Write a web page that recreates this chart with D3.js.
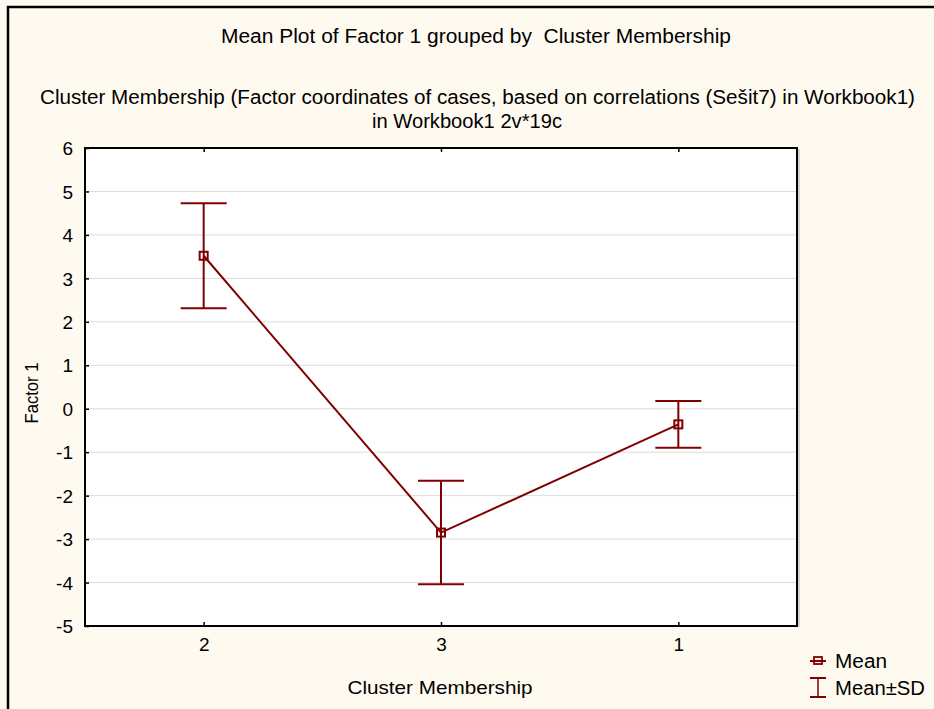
<!DOCTYPE html>
<html>
<head>
<meta charset="utf-8">
<script src="https://cdn.jsdelivr.net/npm/d3@7"></script>
<style>
  html, body { margin: 0; padding: 0; background: #fffaf0; }
  svg { display: block; }
  text { white-space: pre; }
</style>
</head>
<body>
<svg id="chart" width="934" height="709"></svg>
<script>
// Cluster order as displayed on the x axis
const clusters = ["2", "3", "1"];
// Mean of Factor 1 per cluster
const means = [3.52, -2.85, -0.36];
// Standard deviation per cluster
const sds = [1.21, 1.19, 0.54];
// Y axis tick values
const yTicks = [-5, -4, -3, -2, -1, 0, 1, 2, 3, 4, 5, 6];

const titleText = "Mean Plot of Factor 1 grouped by  Cluster Membership";
const subtitleLines = [
  "Cluster Membership (Factor coordinates of cases, based on correlations (Sešit7) in Workbook1)",
  "in Workbook1 2v*19c"
];
const xTitle = "Cluster Membership";
const yTitle = "Factor 1";
const legendLabels = ["Mean", "Mean±SD"];

const data = clusters.map((c, i) => ({ cluster: c, mean: means[i], sd: sds[i] }));

const svg = d3.select("#chart");
const W = 934, H = 709;
const plot = { left: 85, top: 148, right: 797, bottom: 626 };
const red = "#800000";
const sans = "'Liberation Sans', Arial, sans-serif";

// Outer frame (left and top edges visible)
svg.append("rect").attr("width", W).attr("height", H).attr("fill", "#fffaf0");
svg.append("line").attr("x1", 8).attr("x2", 8).attr("y1", 6).attr("y2", H)
  .attr("stroke", "#000").attr("stroke-width", 2.5);
svg.append("line").attr("x1", 7).attr("x2", W).attr("y1", 7).attr("y2", 7)
  .attr("stroke", "#000").attr("stroke-width", 2.5);

const x = d3.scalePoint().domain(clusters)
  .range([plot.left, plot.right]).padding(0.5);
const y = d3.scaleLinear().domain([-5, 6]).range([plot.bottom, plot.top]);

// Plot background
svg.append("rect")
  .attr("x", plot.left).attr("y", plot.top)
  .attr("width", plot.right - plot.left).attr("height", plot.bottom - plot.top)
  .attr("fill", "#ffffff");

// Horizontal gridlines
svg.append("g").selectAll("line")
  .data(yTicks.filter(t => t > -5 && t < 6))
  .join("line")
  .attr("x1", plot.left).attr("x2", plot.right)
  .attr("y1", d => y(d)).attr("y2", d => y(d))
  .attr("stroke", "#dcdcdc").attr("stroke-width", 1);

// Y axis (ticks drawn inward)
const yAxis = d3.axisLeft(y).tickValues(yTicks).tickSize(-4).tickPadding(12)
  .tickFormat(d => String(d));
const gy = svg.append("g").attr("transform", `translate(${plot.left},0)`).call(yAxis);
gy.select(".domain").remove();
gy.selectAll(".tick line").attr("stroke", "#000").attr("stroke-width", 1.5);
gy.selectAll(".tick text").attr("font-family", sans).attr("font-size", 19)
  .attr("fill", "#000").attr("dy", "0.35em");

// X axis bottom
const xAxis = d3.axisBottom(x).tickSize(-4).tickPadding(12);
const gx = svg.append("g").attr("transform", `translate(0,${plot.bottom})`).call(xAxis);
gx.select(".domain").remove();
gx.selectAll(".tick line").attr("stroke", "#000").attr("stroke-width", 1.5);
gx.selectAll(".tick text").attr("font-family", sans).attr("font-size", 19).attr("fill", "#000");

// X axis top ticks
const gxt = svg.append("g").attr("transform", `translate(0,${plot.top})`)
  .call(d3.axisTop(x).tickSize(-4).tickFormat(""));
gxt.select(".domain").remove();
gxt.selectAll(".tick line").attr("stroke", "#000").attr("stroke-width", 1.5);

// Plot frame with a faint shadow
svg.append("line").attr("x1", plot.right + 2).attr("x2", plot.right + 2)
  .attr("y1", plot.top + 1).attr("y2", plot.bottom + 1)
  .attr("stroke", "#b0b0b0").attr("stroke-width", 1);
svg.append("rect")
  .attr("x", plot.left).attr("y", plot.top)
  .attr("width", plot.right - plot.left).attr("height", plot.bottom - plot.top)
  .attr("fill", "none").attr("stroke", "#000").attr("stroke-width", 2);

// Error bars: mean ± SD
const capHalf = 23;
const eb = svg.append("g").attr("stroke", red).attr("stroke-width", 2).attr("fill", "none");
eb.selectAll(".stem").data(data).join("line").attr("class", "stem")
  .attr("x1", d => x(d.cluster)).attr("x2", d => x(d.cluster))
  .attr("y1", d => y(d.mean + d.sd)).attr("y2", d => y(d.mean - d.sd));
eb.selectAll(".capTop").data(data).join("line").attr("class", "capTop")
  .attr("x1", d => x(d.cluster) - capHalf).attr("x2", d => x(d.cluster) + capHalf)
  .attr("y1", d => y(d.mean + d.sd)).attr("y2", d => y(d.mean + d.sd));
eb.selectAll(".capBot").data(data).join("line").attr("class", "capBot")
  .attr("x1", d => x(d.cluster) - capHalf).attr("x2", d => x(d.cluster) + capHalf)
  .attr("y1", d => y(d.mean - d.sd)).attr("y2", d => y(d.mean - d.sd));

// Mean line
svg.append("path").datum(data)
  .attr("d", d3.line().x(d => x(d.cluster)).y(d => y(d.mean)))
  .attr("fill", "none").attr("stroke", red).attr("stroke-width", 2);

// Mean markers
const ms = 8;
svg.append("g").selectAll("rect").data(data).join("rect")
  .attr("x", d => x(d.cluster) - ms / 2).attr("y", d => y(d.mean) - ms / 2)
  .attr("width", ms).attr("height", ms)
  .attr("fill", "none").attr("stroke", red).attr("stroke-width", 2);

// Titles
svg.append("text").attr("x", 476).attr("y", 43).attr("text-anchor", "middle")
  .attr("font-family", sans).attr("font-size", 20).attr("fill", "#000")
  .attr("textLength", 510).attr("lengthAdjust", "spacingAndGlyphs").text(titleText);
const subWidths = [875, 190];
svg.selectAll(".sub").data(subtitleLines).join("text").attr("class", "sub")
  .attr("x", (d, i) => i === 0 ? 477.5 : 467).attr("y", (d, i) => 104 + i * 24)
  .attr("text-anchor", "middle")
  .attr("font-family", sans).attr("font-size", 20).attr("fill", "#000")
  .attr("textLength", (d, i) => subWidths[i]).attr("lengthAdjust", "spacingAndGlyphs")
  .text(d => d);

// Axis titles
svg.append("text").attr("x", 440).attr("y", 694).attr("text-anchor", "middle")
  .attr("font-family", sans).attr("font-size", 19).attr("fill", "#000")
  .attr("textLength", 185).attr("lengthAdjust", "spacingAndGlyphs").text(xTitle);
svg.append("text").attr("transform", "translate(38,393) rotate(-90)")
  .attr("text-anchor", "middle").attr("font-family", sans).attr("font-size", 19)
  .attr("fill", "#000").attr("textLength", 61).attr("lengthAdjust", "spacingAndGlyphs")
  .text(yTitle);

// Legend
const lg = svg.append("g");
const l1y = 661, l2y = 688;
lg.append("line").attr("x1", 810).attr("x2", 826).attr("y1", l1y).attr("y2", l1y)
  .attr("stroke", red).attr("stroke-width", 2);
lg.append("rect").attr("x", 814).attr("y", l1y - 4).attr("width", 8).attr("height", 7)
  .attr("fill", "none").attr("stroke", red).attr("stroke-width", 1.8);
lg.append("line").attr("x1", 810).attr("x2", 826).attr("y1", 678).attr("y2", 678)
  .attr("stroke", red).attr("stroke-width", 2);
lg.append("line").attr("x1", 810).attr("x2", 826).attr("y1", 697).attr("y2", 697)
  .attr("stroke", red).attr("stroke-width", 2);
lg.append("line").attr("x1", 818).attr("x2", 818).attr("y1", 678).attr("y2", 697)
  .attr("stroke", red).attr("stroke-width", 1.5);
lg.selectAll("text").data(legendLabels).join("text")
  .attr("x", 835).attr("y", (d, i) => [l1y, l2y][i]).attr("dy", "0.35em")
  .attr("font-family", sans).attr("font-size", 20).attr("fill", "#000")
  .attr("textLength", (d, i) => [52, 90][i]).attr("lengthAdjust", "spacingAndGlyphs")
  .text(d => d);
</script>
</body>
</html>
